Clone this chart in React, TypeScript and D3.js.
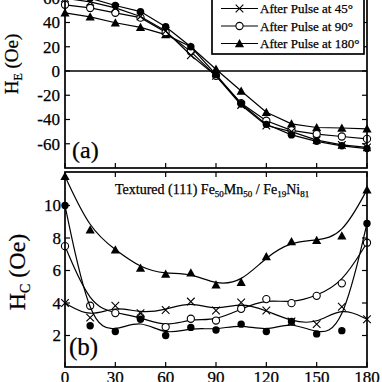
import React from "react";
import * as d3 from "d3";

const angles = [0, 15, 30, 45, 60, 75, 90, 105, 120, 135, 150, 165, 180];
const xTicks = [0, 30, 60, 90, 120, 150, 180];
const yTicksA = [-60, -40, -20, 0, 20, 40, 60];
const yTicksB = [2, 4, 6, 8, 10];

// Panel (a): exchange bias H_E (Oe)
const heBefore = [64, 60, 54, 49, 36.5, 20, -3, -27, -44, -52.7, -58, -61.7, -64];
const he45 = [60, 57, 52, 45, 33, 13, -4, -28, -45, -50, -57, -61, -63];
const he90 = [54.6, 52, 48, 44, 32, 16, -4, -26.6, -41, -49, -52, -54, -56];
const he180 = [48, 44.7, 39.8, 36, 30, 20, 1.5, -16.5, -34, -43.6, -46.6, -47, -47.7];

// Panel (b): coercivity H_C (Oe)
const hcBefore = [10, 2.6, 2.25, 3.0, 2.0, 2.5, 2.34, 2.7, 2.25, 2.86, 2.1, 2.3, 8.9];
const hc45 = [4.0, 3.1, 3.83, 3.37, 3.57, 4.09, 3.54, 4.03, 3.54, 2.86, 2.7, 3.77, 3.0];
const hc90 = [7.5, 3.83, 3.38, 3.13, 2.52, 3.03, 2.92, 3.64, 4.24, 3.99, 4.44, 5.21, 7.71];
const hc180 = [11.8, 8.5, 7.27, 6.15, 5.78, 5.85, 5.12, 5.28, 6.85, 7.78, 7.85, 8.14, 10.97];

const legendLabels = ["After Pulse at 45°", "After Pulse at 90°", "After Pulse at 180°"];

type Kind = "filled" | "cross" | "open" | "tri";

const FONT = "'Liberation Serif', 'Times New Roman', serif";

function Marker({ kind, cx, cy }: { kind: Kind; cx: number; cy: number }) {
  if (kind === "filled") return <circle cx={cx} cy={cy} r={3.7} fill="#000" />;
  if (kind === "open")
    return <circle cx={cx} cy={cy} r={3.6} fill="#fff" stroke="#000" strokeWidth={1.1} />;
  if (kind === "tri") {
    const s = 4.6;
    return (
      <path
        d={`M${cx},${cy - s}L${cx + s},${cy + s * 0.8}L${cx - s},${cy + s * 0.8}Z`}
        fill="#000"
      />
    );
  }
  const s = 3.8;
  return (
    <path
      d={`M${cx - s},${cy - s}L${cx + s},${cy + s}M${cx - s},${cy + s}L${cx + s},${cy - s}`}
      stroke="#000"
      strokeWidth={1.1}
      fill="none"
    />
  );
}

export default function App() {
  const W = 382;
  const H = 382;
  const left = 65;
  const right = 367;
  const x = d3.scaleLinear().domain([0, 180]).range([left, right]);
  const yA = d3.scaleLinear().domain([-80, 80]).range([168, -26]);
  const yB = d3.scaleLinear().domain([0, 12]).range([368, 173]);
  const aTop = -30;
  const aBot = 168;
  const bTop = 172;
  const bBot = 367;

  const lineA = (vals: number[]) =>
    d3
      .line<number>()
      .x((_, i) => x(angles[i]))
      .y((v) => yA(v))
      .curve(d3.curveLinear)(vals) as string;
  const lineB = (vals: number[]) =>
    d3
      .line<number>()
      .x((_, i) => x(angles[i]))
      .y((v) => yB(v))
      .curve(d3.curveBasis)(vals) as string;

  const seriesA: { vals: number[]; kind: Kind }[] = [
    { vals: he180, kind: "tri" },
    { vals: he90, kind: "open" },
    { vals: he45, kind: "cross" },
    { vals: heBefore, kind: "filled" },
  ];
  const seriesB: { vals: number[]; kind: Kind }[] = [
    { vals: hc180, kind: "tri" },
    { vals: hc90, kind: "open" },
    { vals: hc45, kind: "cross" },
    { vals: hcBefore, kind: "filled" },
  ];
  const legendKinds: Kind[] = ["cross", "open", "tri"];
  const legendY = [8.5, 26, 43.5];

  const tickLen = 5;
  const txtStroke = { stroke: "#000", strokeWidth: 0.25 };

  return (
    <svg
      width={W}
      height={H}
      viewBox={`0 0 ${W} ${H}`}
      style={{ position: "absolute", left: 0, top: 0, background: "#fff" }}
      fontFamily={FONT}
    >
      <rect x={0} y={0} width={W} height={H} fill="#fff" />

      {/* Panel (a) */}
      <line x1={left} x2={right} y1={yA(0)} y2={yA(0)} stroke="#000" strokeWidth={1.4} />
      {seriesA.map((s, si) => (
        <g key={"a" + si}>
          <path d={lineA(s.vals)} fill="none" stroke="#000" strokeWidth={1.2} />
          {s.vals.map((v, i) => (
            <Marker key={i} kind={s.kind} cx={x(angles[i])} cy={yA(v)} />
          ))}
        </g>
      ))}
      <rect
        x={left}
        y={aTop}
        width={right - left}
        height={aBot - aTop}
        fill="none"
        stroke="#000"
        strokeWidth={1.7}
      />
      {yTicksA.map((t) => (
        <g key={"ya" + t}>
          <line x1={left} x2={left + tickLen} y1={yA(t)} y2={yA(t)} stroke="#000" strokeWidth={1.2} />
          <line x1={right} x2={right - tickLen} y1={yA(t)} y2={yA(t)} stroke="#000" strokeWidth={1.2} />
          <text x={60} y={yA(t)} dy="0.35em" textAnchor="end" fontSize={17} {...txtStroke}>
            {t}
          </text>
        </g>
      ))}
      {xTicks.map((t) => (
        <line key={"xa" + t} x1={x(t)} x2={x(t)} y1={aBot} y2={aBot - tickLen} stroke="#000" strokeWidth={1.2} />
      ))}
      <text x={72} y={158} fontSize={24} {...txtStroke}>
        (a)
      </text>
      <text transform="translate(18,64) rotate(-90)" textAnchor="middle" fontSize={19} {...txtStroke}>
        H<tspan fontSize={12} dy={4}>E</tspan>
        <tspan dy={-4}> (Oe)</tspan>
      </text>

      {/* Legend */}
      <rect x={212} y={-30} width={152} height={84} fill="#fff" stroke="#000" strokeWidth={1.7} />
      {legendLabels.map((lab, i) => (
        <g key={lab}>
          <line x1={221} x2={258} y1={legendY[i]} y2={legendY[i]} stroke="#000" strokeWidth={1.1} />
          <Marker kind={legendKinds[i]} cx={239.5} cy={legendY[i]} />
          <text x={260} y={legendY[i]} dy="0.35em" fontSize={13} {...txtStroke}>
            {lab}
          </text>
        </g>
      ))}

      {/* Panel (b) */}
      {seriesB.map((s, si) => (
        <g key={"b" + si}>
          <path d={lineB(s.vals)} fill="none" stroke="#000" strokeWidth={1.2} />
          {s.vals.map((v, i) => (
            <Marker key={i} kind={s.kind} cx={x(angles[i])} cy={yB(v)} />
          ))}
        </g>
      ))}
      <rect
        x={left}
        y={bTop}
        width={right - left}
        height={bBot - bTop}
        fill="none"
        stroke="#000"
        strokeWidth={1.7}
      />
      {yTicksB.map((t) => (
        <g key={"yb" + t}>
          <line x1={left} x2={left + tickLen} y1={yB(t)} y2={yB(t)} stroke="#000" strokeWidth={1.2} />
          <line x1={right} x2={right - tickLen} y1={yB(t)} y2={yB(t)} stroke="#000" strokeWidth={1.2} />
          <text x={61} y={yB(t)} dy="0.35em" textAnchor="end" fontSize={17} {...txtStroke}>
            {t}
          </text>
        </g>
      ))}
      {xTicks.map((t) => (
        <g key={"xb" + t}>
          <line x1={x(t)} x2={x(t)} y1={bBot} y2={bBot - tickLen} stroke="#000" strokeWidth={1.2} />
          <line x1={x(t)} x2={x(t)} y1={bTop} y2={bTop + tickLen} stroke="#000" strokeWidth={1.2} />
          <text x={x(t)} y={383} textAnchor="middle" fontSize={17} {...txtStroke}>
            {t}
          </text>
        </g>
      ))}
      <text x={69} y={355} fontSize={25} {...txtStroke}>
        (b)
      </text>
      <text transform="translate(25,272) rotate(-90)" textAnchor="middle" fontSize={24} {...txtStroke}>
        H<tspan fontSize={14} dy={5}>C</tspan>
        <tspan dy={-5}> (Oe)</tspan>
      </text>
      <text x={115} y={194} fontSize={14} {...txtStroke}>
        Textured (111) Fe<tspan fontSize={9} dy={3}>50</tspan>
        <tspan dy={-3}>Mn</tspan>
        <tspan fontSize={9} dy={3}>50</tspan>
        <tspan dy={-3}> / Fe</tspan>
        <tspan fontSize={9} dy={3}>19</tspan>
        <tspan dy={-3}>Ni</tspan>
        <tspan fontSize={9} dy={3}>81</tspan>
      </text>
    </svg>
  );
}
